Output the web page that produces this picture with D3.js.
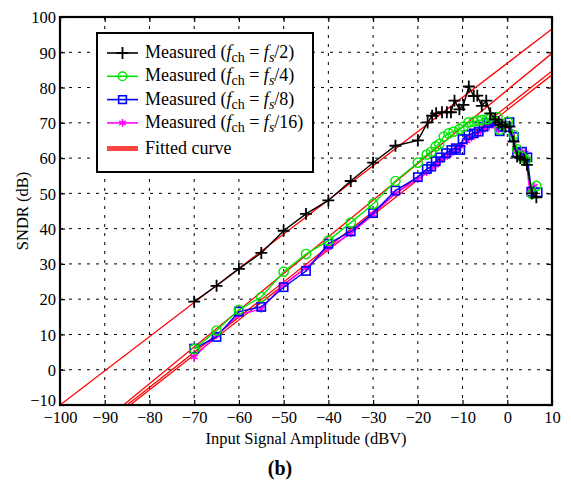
<!DOCTYPE html>
<html>
<head>
<meta charset="utf-8">
<script src="https://cdn.jsdelivr.net/npm/d3@7"></script>
<style>
  body { margin: 0; background: #fff; }
  svg, svg text { font-family: "Liberation Serif", "Times New Roman", Times, "DejaVu Serif", serif; }
  .grid line { stroke: #000; stroke-width: 1; stroke-dasharray: 3 6; }
</style>
</head>
<body>
<div id="chart"></div>
<script>
const X_TICKS = [-100, -90, -80, -70, -60, -50, -40, -30, -20, -10, 0, 10];
const Y_TICKS = [-10, 0, 10, 20, 30, 40, 50, 60, 70, 80, 90, 100];

const BLACK_X = [-70, -65, -60, -55, -50, -45, -40, -35, -30, -25, -20, -17.8, -16.8, -15.9, -14.6, -13.5, -12.6, -11.8, -10.7, -9.8, -8.6, -7.5, -6.7, -5.7, -4.7, -3.8, -2.7, -1.9, -1.2, -0.4, 0.5, 1.4, 2.2, 2.9, 3.8, 4.4, 5.5, 6.5];
const BLACK_Y = [19.3, 23.8, 28.6, 33.1, 39.4, 44.2, 48.0, 53.5, 58.7, 63.5, 65.0, 70.1, 72.0, 72.7, 73.0, 73.0, 73.0, 76.3, 73.8, 75.1, 80.3, 77.6, 77.7, 74.8, 76.3, 72.7, 71.0, 70.1, 69.4, 68.9, 68.9, 64.7, 60.4, 60.0, 59.5, 58.1, 50.0, 48.9];

const GREEN_X = [-70, -65, -60, -55, -50, -45, -40, -35, -30, -25, -20, -18, -17, -16, -15.2, -14.2, -13.1, -12, -10.7, -9.8, -8.7, -7.5, -6.6, -5.7, -4.5, -3.6, -2.2, -1.7, 0.1, 1.4, 2.2, 3.3, 4.2, 5.5, 6.5];
const GREEN_Y = [5.9, 11.1, 17.0, 20.6, 27.8, 32.8, 36.6, 41.7, 47.0, 53.5, 58.7, 61.0, 61.8, 63.3, 64.0, 66.1, 67.0, 67.5, 68.2, 68.9, 70.1, 70.3, 70.6, 70.8, 71.0, 71.6, 71.6, 68.0, 70.3, 66.6, 62.5, 60.4, 59.5, 49.8, 52.1];

const BLUE_X = [-70, -65, -60, -55, -50, -45, -40, -35, -30, -25, -20, -18, -17, -16, -15, -13.7, -12.5, -11.5, -10.5, -10, -8.7, -7.5, -6.4, -5.3, -4.2, -3, -1.7, -0.5, 0.5, 1.5, 2.2, 3.3, 4.5, 5.4, 6.8];
const BLUE_Y = [6.0, 9.3, 16.5, 17.8, 23.4, 28.0, 35.7, 39.2, 44.4, 50.8, 54.6, 56.9, 57.6, 59.1, 60.2, 61.4, 62.3, 62.8, 62.3, 65.4, 66.6, 67.0, 67.5, 68.9, 70.0, 70.5, 67.6, 68.8, 70.2, 66.0, 61.5, 61.8, 60.2, 50.5, 50.3];

const MAGENTA_X = [-70, -65, -60, -55, -50, -45, -40, -35, -30, -25, -20, -18, -17, -16, -15, -14, -13, -12, -11, -10, -9, -8, -7, -6, -5, -4, -3, -2, -1, 0, 1, 2, 3, 4, 5, 6];
const MAGENTA_Y = [3.6, 9.8, 15.6, 17.2, 24.2, 28.8, 34.6, 38.6, 44.0, 50.0, 54.0, 56.0, 56.8, 58.0, 59.3, 60.2, 61.0, 61.8, 62.6, 63.8, 64.8, 65.8, 66.6, 67.4, 68.3, 69.0, 69.5, 68.0, 69.0, 69.5, 67.0, 62.0, 62.5, 61.5, 51.0, 52.0];

// fitted lines, end points [x0, y0, x1, y1]
const FIT_LINES = [
  [-100, -10, 10, 96.6],
  [-85.8, -10, 10, 89.7],
  [-85.0, -10, 10, 84.7],
  [-84.3, -10, 10, 83.6]
];

const SERIES = [
  { key: "s16", x: MAGENTA_X, y: MAGENTA_Y, color: "#ff00ff", marker: "asterisk", div: "16" },
  { key: "s8", x: BLUE_X, y: BLUE_Y, color: "#0000ff", marker: "square", div: "8" },
  { key: "s4", x: GREEN_X, y: GREEN_Y, color: "#00e600", marker: "circle", div: "4" },
  { key: "s2", x: BLACK_X, y: BLACK_Y, color: "#000000", marker: "plus", div: "2" }
];

const FONT = "'Liberation Serif', 'Times New Roman', Times, 'DejaVu Serif', serif";

const W = 571, H = 485;
const margin = { top: 17, right: 19, bottom: 80, left: 60 };
const iw = W - margin.left - margin.right;
const ih = H - margin.top - margin.bottom;

const svg = d3.select("#chart").append("svg").attr("width", W).attr("height", H);
const g = svg.append("g").attr("transform", `translate(${margin.left},${margin.top})`);

const x = d3.scaleLinear().domain([-100, 10]).range([0, iw]);
const y = d3.scaleLinear().domain([-10, 100]).range([ih, 0]);
const fmt = (d) => (d < 0 ? "\u2212" + Math.abs(d) : String(d));

svg.append("defs").append("clipPath").attr("id", "clip")
  .append("rect").attr("width", iw).attr("height", ih);

// grid
const grid = g.append("g").attr("class", "grid");
grid.selectAll(".gx").data(X_TICKS.slice(1, -1)).join("line")
  .attr("x1", (d) => x(d)).attr("x2", (d) => x(d)).attr("y1", 0).attr("y2", ih);
grid.selectAll(".gy").data(Y_TICKS.slice(1, -1)).join("line")
  .attr("y1", (d) => y(d)).attr("y2", (d) => y(d)).attr("x1", 0).attr("x2", iw);

// inward ticks on all sides
const axB = g.append("g").attr("transform", `translate(0,${ih})`)
  .call(d3.axisBottom(x).tickValues(X_TICKS).tickSize(-5).tickPadding(6).tickFormat(fmt));
const axL = g.append("g")
  .call(d3.axisLeft(y).tickValues(Y_TICKS).tickSize(-5).tickPadding(4).tickFormat(fmt));
g.append("g").call(d3.axisTop(x).tickValues(X_TICKS).tickSize(-5).tickFormat(""));
g.append("g").attr("transform", `translate(${iw},0)`)
  .call(d3.axisRight(y).tickValues(Y_TICKS).tickSize(-5).tickFormat(""));
g.selectAll(".domain").remove();
g.selectAll("g").attr("font-family", null).attr("font-size", null);
g.selectAll(".tick line").attr("stroke", "#000").attr("stroke-width", 1.2);
g.selectAll(".tick text").attr("fill", "#000")
  .style("font-family", FONT).style("font-size", "16.5px");
axB.selectAll(".tick text").attr("dy", "0.71em");
axL.selectAll(".tick text").attr("dy", (d) => (d === -10 ? "0.05em" : "0.35em"));

// fitted lines
const plot = g.append("g").attr("clip-path", "url(#clip)");
plot.selectAll(".fit").data(FIT_LINES).join("line")
  .attr("x1", (d) => x(d[0])).attr("y1", (d) => y(d[1]))
  .attr("x2", (d) => x(d[2])).attr("y2", (d) => y(d[3]))
  .attr("stroke", "#ff0000").attr("stroke-width", 1.3);

function drawMarker(sel, type, color, size) {
  const s = size;
  if (type === "circle") {
    sel.append("circle").attr("r", s * 0.62).attr("fill", "none")
      .attr("stroke", color).attr("stroke-width", 1.4);
  } else if (type === "square") {
    sel.append("rect").attr("x", -s * 0.55).attr("y", -s * 0.55)
      .attr("width", s * 1.1).attr("height", s * 1.1).attr("fill", "none")
      .attr("stroke", color).attr("stroke-width", 1.6);
  } else if (type === "plus") {
    sel.append("path").attr("d", d3.symbol(d3.symbolPlus, 48)())
      .attr("fill", "none").attr("stroke", color).attr("stroke-width", 1.8);
  } else {
    sel.append("path").attr("d", d3.symbol(d3.symbolAsterisk, 40)())
      .attr("fill", "none").attr("stroke", color).attr("stroke-width", 1.5);
  }
}

const line = d3.line().x((d) => x(d[0])).y((d) => y(d[1]));
SERIES.forEach((s) => {
  const pts = s.x.map((v, i) => [v, s.y[i]]);
  const sg = plot.append("g");
  sg.append("path").datum(pts).attr("d", line)
    .attr("fill", "none").attr("stroke", s.color).attr("stroke-width", 1.4);
  sg.selectAll("g").data(pts).join("g")
    .attr("transform", (d) => `translate(${x(d[0])},${y(d[1])})`)
    .each(function () { drawMarker(d3.select(this), s.marker, s.color, 7.5); });
});

// frame
g.append("rect").attr("width", iw).attr("height", ih)
  .attr("fill", "none").attr("stroke", "#000").attr("stroke-width", 2.2);

// legend
const lg = g.append("g").attr("transform", `translate(${97 - margin.left},${33 - margin.top})`);
lg.append("rect").attr("width", 216).attr("height", 139)
  .attr("fill", "#fff").attr("stroke", "#000").attr("stroke-width", 2);
const legendRows = [SERIES[3], SERIES[2], SERIES[1], SERIES[0]];
legendRows.forEach((s, i) => {
  const cy = 20 + i * 23.3;
  lg.append("line").attr("x1", 10).attr("x2", 41).attr("y1", cy).attr("y2", cy)
    .attr("stroke", s.color).attr("stroke-width", 1.6);
  drawMarker(lg.append("g").attr("transform", `translate(25.5,${cy})`), s.marker, s.color, 7);
  const t = lg.append("text").attr("x", 48).attr("y", cy + 5)
    .style("font-family", FONT).style("font-size", "18px").attr("fill", "#000");
  t.append("tspan").text("Measured (");
  t.append("tspan").style("font-style", "italic").text("f");
  t.append("tspan").attr("dy", 4).style("font-size", "14px").text("ch");
  t.append("tspan").attr("dy", -4).text(" = ");
  t.append("tspan").style("font-style", "italic").text("f");
  t.append("tspan").attr("dy", 4).style("font-size", "14px").style("font-style", "italic").text("s");
  t.append("tspan").attr("dy", -4).text("/" + s.div + ")");
});
lg.append("line").attr("x1", 10).attr("x2", 41).attr("y1", 115.5).attr("y2", 115.5)
  .attr("stroke", "#ff4444").attr("stroke-width", 5);
lg.append("text").attr("x", 48).attr("y", 121)
  .style("font-family", FONT).style("font-size", "18px").text("Fitted curve");

// axis titles
svg.append("text").attr("x", margin.left + iw / 2).attr("y", 444)
  .attr("text-anchor", "middle").style("font-family", FONT).style("font-size", "16.5px")
  .text("Input Signal Amplitude (dBV)");
svg.append("text").attr("transform", `translate(28,${margin.top + ih / 2}) rotate(-90)`)
  .attr("text-anchor", "middle").style("font-family", FONT).style("font-size", "16.5px")
  .text("SNDR (dB)");
svg.append("text").attr("x", 280).attr("y", 475).attr("text-anchor", "middle")
  .style("font-family", FONT).style("font-size", "20px").style("font-weight", "bold").text("(b)");
</script>
</body>
</html>
